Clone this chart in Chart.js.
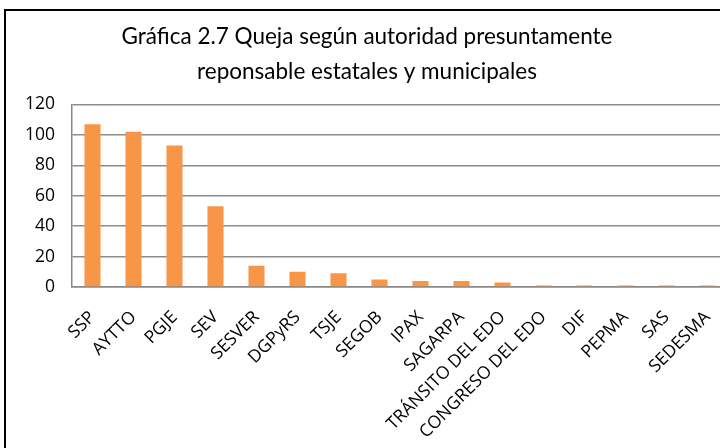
<!DOCTYPE html>
<html>
<head>
  <meta charset="utf-8" />
  <title>Gráfica 2.7</title>
  <script src="https://cdn.jsdelivr.net/npm/chart.js@4"></script>
  <style>
    html, body { margin: 0; padding: 0; background: #fff; overflow: hidden; width: 720px; height: 448px; }
    #frame { position: absolute; left: 4px; top: 9px; width: 740px; height: 470px; border: 2px solid #000; }
    #wrap { position: absolute; left: 0; top: 0; width: 726px; height: 451px; }
  </style>
</head>
<body>
  <div id="frame">
    <div id="wrap"><canvas id="quejas"></canvas></div>
  </div>
  <script>
    var autoridades = ["SSP", "AYTTO", "PGJE", "SEV", "SESVER", "DGPyRS", "TSJE", "SEGOB", "IPAX", "SAGARPA",
      "TRÁNSITO DEL EDO", "CONGRESO DEL EDO", "DIF", "PEPMA", "SAS", "SEDESMA"];
    var quejas = [107, 102, 93, 53, 14, 10, 9, 5, 4, 4, 3, 1, 1, 1, 1, 1];
    var yTicks = [0, 20, 40, 60, 80, 100, 120];

    var ctx = document.getElementById("quejas").getContext("2d");
    new Chart(ctx, {
      type: 'bar',
      data: {
        labels: autoridades,
        datasets: [{
          label: "Quejas",
          data: quejas,
          backgroundColor: "#f79646",
          borderWidth: 0,
          barPercentage: 0.8,
          categoryPercentage: 0.49
        }]
      },
      options: {
        responsive: true,
        maintainAspectRatio: false,
        animation: false,
        layout: { padding: { left: 0, right: 4, top: 9, bottom: 0 } },
        plugins: {
          legend: { display: false },
          tooltip: { enabled: false },
          title: {
            display: true,
            text: ["Gráfica 2.7 Queja según autoridad presuntamente", "reponsable estatales y municipales"],
            color: "#000",
            font: { family: "Lato", size: 22.5, weight: 'normal', lineHeight: 1.52 },
            padding: { top: 0, bottom: 16 }
          }
        },
        scales: {
          x: {
            grid: { display: false, drawTicks: false },
            border: { color: "#888", width: 1.5 },
            afterFit: function(axis) {
              // keep the plot edges where the original has them
              axis.paddingLeft = 0;
              axis.paddingRight = 0;
              axis.height = 175;
            },
            ticks: {
              color: "#000",
              font: { family: "Open Sans", size: 17.5 },
              minRotation: 45,
              maxRotation: 45,
              autoSkip: false,
              padding: 20
            }
          },
          y: {
            min: 0,
            max: 120,
            afterBuildTicks: function(axis) {
              axis.ticks = yTicks.map(function(v) { return { value: v }; });
            },
            afterFit: function(axis) {
              axis.width = 66;
            },
            grid: { color: "#8c8c8c", lineWidth: 1.5, drawTicks: false },
            border: { color: "#888", width: 1.5 },
            ticks: {
              color: "#000",
              font: { family: "Open Sans", size: 17.5 },
              padding: 17
            }
          }
        }
      }
    });
  </script>
</body>
</html>
